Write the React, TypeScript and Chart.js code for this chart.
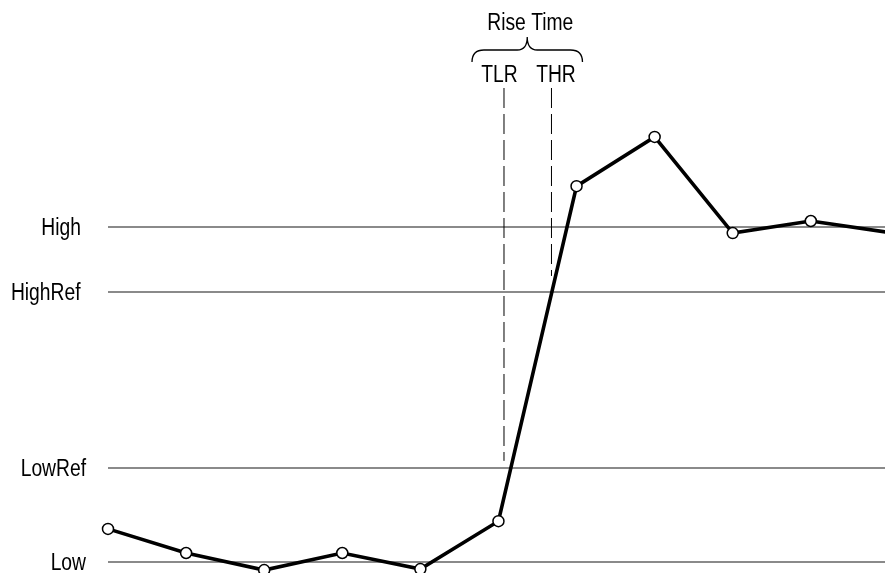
import React, { useEffect, useRef } from "react";
import { Chart, registerables } from "chart.js";

Chart.register(...registerables);

// ---- data ----
const sampleIndex = [0, 1, 2, 3, 4, 5, 6, 7, 8, 9, 10];
const signalValues = [9.8, 2.6, -2.5, 2.6, -2.2, 12.1, 112.1, 126.8, 98.1, 101.7, 98.3];
const levelNames = ["Low", "LowRef", "HighRef", "High"];
const levelValues = [0, 28, 80.5, 100];
const markerNames = ["TLR", "THR"];
const markerTimes = [5.071, 5.679];
const markerTop = [141.4, 141.4];
const markerBottom = [30.1, 85.3];
const spanTitle = "Rise Time";

const X_MIN = 0;
const X_MAX = 9.95;
const Y_MIN = -3.37;
const Y_MAX = 167.67;

// ---- style ----
const FONT_FAMILY = '"Liberation Sans", Arial, sans-serif';
const FONT_SIZE = 23.5;
const NARROW = 0.82;
const CAP_HALF = 8.4;
const LABEL_RIGHT = [86, 86, 80.5, 81];
const POINT_RADIUS = 5.5;

function narrowText(ctx: CanvasRenderingContext2D, text: string, x: number, y: number, align: CanvasTextAlign) {
  ctx.save();
  ctx.translate(x, y);
  ctx.scale(NARROW, 1);
  ctx.textAlign = align;
  ctx.textBaseline = "alphabetic";
  ctx.fillText(text, 0, 0);
  ctx.restore();
}

const annotationPlugin = {
  id: "riseTimeAnnotation",
  afterDraw(chart: any) {
    const { ctx } = chart;
    const xs = chart.scales.x;
    const ys = chart.scales.y;
    const x1 = xs.getPixelForValue(markerTimes[0]);
    const x2 = xs.getPixelForValue(markerTimes[1]);
    const topPx = ys.getPixelForValue(markerTop[0]);
    ctx.save();
    ctx.font = `${FONT_SIZE}px ${FONT_FAMILY}`;
    ctx.fillStyle = "#000";

    // level labels
    levelValues.forEach((v, i) => {
      const py = ys.getPixelForValue(v);
      narrowText(ctx, levelNames[i], LABEL_RIGHT[i], py + CAP_HALF, "right");
    });

    narrowText(ctx, markerNames[0], x1 - 4.5, topPx - 6, "center");
    narrowText(ctx, markerNames[1], x2 + 4.5, topPx - 6, "center");

    // brace
    const L = x1 - 32;
    const R = x2 + 31;
    const M = (L + R) / 2;
    const yEnd = topPx - 26;
    const yMid = topPx - 38;
    const yTip = topPx - 51;
    ctx.strokeStyle = "#000";
    ctx.lineWidth = 1.3;
    ctx.beginPath();
    ctx.moveTo(L, yEnd);
    ctx.quadraticCurveTo(L, yMid, L + 12, yMid);
    ctx.lineTo(M - 10, yMid);
    ctx.quadraticCurveTo(M, yMid, M, yTip);
    ctx.quadraticCurveTo(M, yMid, M + 10, yMid);
    ctx.lineTo(R - 12, yMid);
    ctx.quadraticCurveTo(R, yMid, R, yEnd);
    ctx.stroke();

    narrowText(ctx, spanTitle, M + 3, topPx - 58.5, "center");
    ctx.restore();
  },
};

export default function App() {
  const canvasRef = useRef<HTMLCanvasElement | null>(null);

  useEffect(() => {
    const canvas = canvasRef.current;
    if (!canvas) return;

    const markerDatasets = markerNames.map((name, i) => ({
      label: name,
      data: [
        { x: markerTimes[i], y: markerTop[i] },
        { x: markerTimes[i], y: markerBottom[i] },
      ],
      borderColor: "#000",
      borderWidth: 1,
      borderDash: [20, 6],
      pointRadius: 0,
      fill: false,
      clip: false as any,
    }));

    const chart = new Chart(canvas, {
      type: "line",
      data: {
        datasets: [
          ...markerDatasets,
          {
            label: "Signal",
            data: sampleIndex.map((x, i) => ({ x, y: signalValues[i] })),
            borderColor: "#000",
            borderWidth: 3.6,
            tension: 0,
            // markers outside the visible time window are not drawn
            pointRadius: (c: any) => (c.parsed && c.parsed.x > X_MAX ? 0 : POINT_RADIUS),
            pointBorderWidth: 1.5,
            pointBackgroundColor: "#fff",
            pointBorderColor: "#000",
            fill: false,
            clip: false as any,
          },
        ],
      },
      options: {
        responsive: false,
        animation: false,
        devicePixelRatio: 1,
        layout: { padding: 0, autoPadding: false },
        plugins: {
          legend: { display: false },
          tooltip: { enabled: false },
        },
        scales: {
          x: {
            type: "linear",
            min: X_MIN,
            max: X_MAX,
            display: false,
          },
          y: {
            type: "linear",
            min: Y_MIN,
            max: Y_MAX,
            afterBuildTicks: (scale: any) => {
              scale.ticks = levelValues.map((v) => ({ value: v }));
            },
            afterFit: (scale: any) => {
              scale.width = 108;
              scale.paddingTop = 0;
              scale.paddingBottom = 0;
            },
            border: { display: false },
            grid: {
              color: "#8a8a8a",
              lineWidth: 2,
              drawTicks: false,
            },
            ticks: {
              display: false,
              autoSkip: false,
            },
          },
        },
      },
      plugins: [annotationPlugin],
    });

    return () => chart.destroy();
  }, []);

  return (
    <div style={{ position: "absolute", left: 0, top: 0, width: 885, height: 573, background: "#fff" }}>
      <canvas ref={canvasRef} width={885} height={573} style={{ display: "block" }} />
    </div>
  );
}
